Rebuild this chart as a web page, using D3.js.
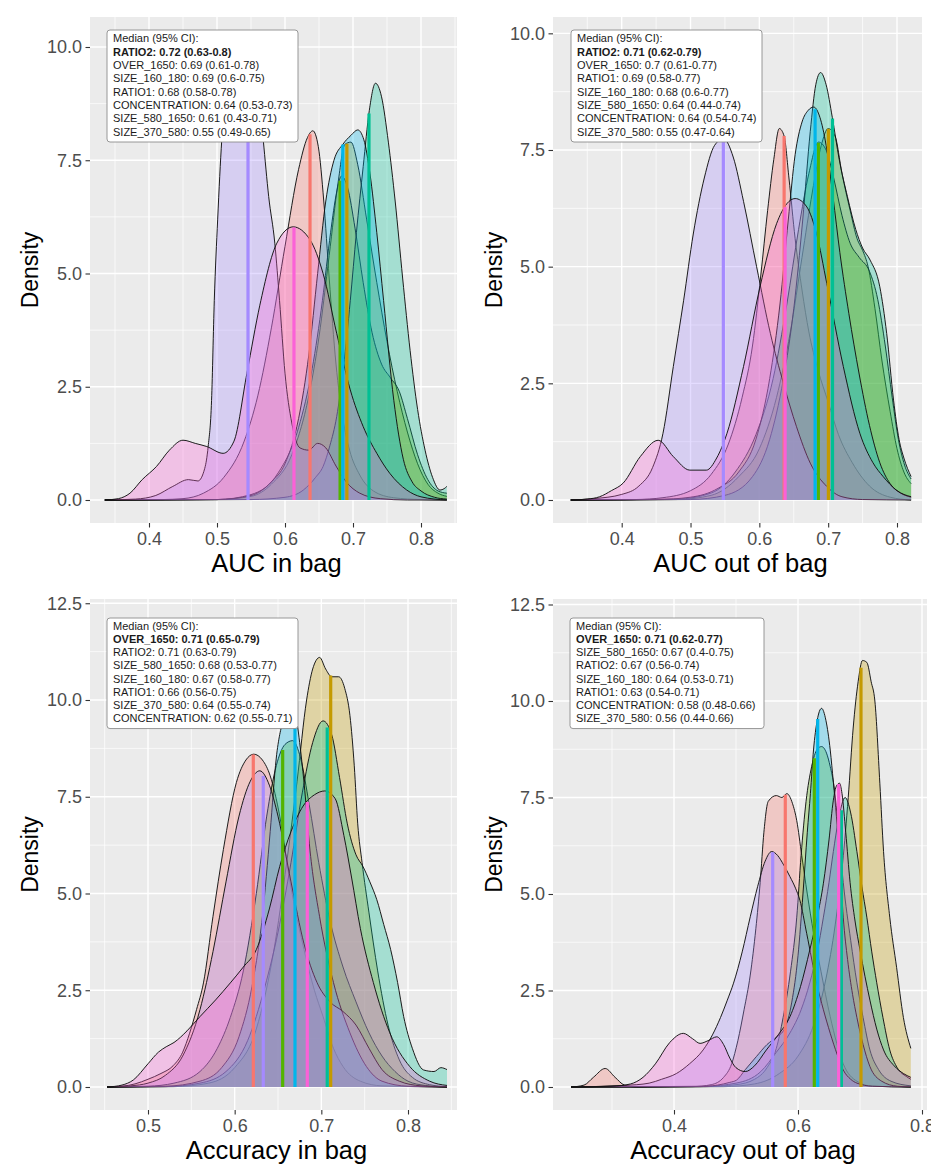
<!DOCTYPE html>
<html><head><meta charset="utf-8">
<script src="https://cdn.jsdelivr.net/npm/d3@7"></script>
<style>body{margin:0;background:#fff}svg{display:block}</style>
</head><body><svg id="c" width="931" height="1164"></svg>
<script>
const FONT = '"Liberation Sans", Arial, Helvetica, sans-serif';
const groups = ["CONCENTRATION","OVER_1650","RATIO1","RATIO2","SIZE_160_180","SIZE_370_580","SIZE_580_1650"];
const groupColors = ["#F8766D","#C49A00","#53B400","#00C094","#00B6EB","#A58AFF","#FB61D7"];

// ---------- AUC in bag ----------
const aucIn_CONCENTRATION = [[0.335,0],[0.42,0.01],[0.45,0.03],[0.48,0.15],[0.51,0.5],[0.54,1.3],[0.56,2.3],[0.58,3.8],[0.60,5.6],[0.62,7.3],[0.633,8.0],[0.641,8.15],[0.649,7.8],[0.657,6.6],[0.665,4.9],[0.675,3.0],[0.685,1.8],[0.695,1.1],[0.71,0.55],[0.73,0.2],[0.76,0.05],[0.80,0.01],[0.838,0]];
const aucIn_OVER_1650 = [[0.335,0],[0.50,0.01],[0.55,0.08],[0.58,0.35],[0.61,1.0],[0.635,2.3],[0.65,3.6],[0.665,5.4],[0.678,7.0],[0.688,7.85],[0.697,7.9],[0.707,7.4],[0.72,6.2],[0.735,4.8],[0.75,3.5],[0.765,2.4],[0.78,1.5],[0.795,0.8],[0.81,0.35],[0.825,0.15],[0.838,0.08]];
const aucIn_RATIO1 = [[0.335,0],[0.50,0.01],[0.55,0.12],[0.59,0.6],[0.62,1.6],[0.64,2.9],[0.655,4.4],[0.667,5.9],[0.676,6.8],[0.683,7.15],[0.692,6.9],[0.703,6.0],[0.715,4.8],[0.728,3.7],[0.742,3.0],[0.755,2.7],[0.768,2.4],[0.78,1.8],[0.795,1.0],[0.81,0.45],[0.825,0.2],[0.838,0.15]];
const aucIn_RATIO2 = [[0.335,0],[0.55,0.01],[0.60,0.06],[0.627,0.22],[0.645,0.5],[0.656,0.74],[0.666,1.2],[0.676,1.84],[0.686,2.94],[0.696,4.4],[0.705,5.9],[0.715,7.36],[0.724,8.6],[0.733,9.2],[0.742,8.9],[0.752,7.9],[0.762,6.6],[0.773,4.9],[0.784,3.3],[0.795,2.0],[0.806,1.1],[0.817,0.5],[0.828,0.22],[0.834,0.25],[0.838,0.3]];
const aucIn_SIZE_160_180 = [[0.335,0],[0.50,0.01],[0.55,0.1],[0.58,0.4],[0.60,0.8],[0.62,1.8],[0.635,3.2],[0.648,5.0],[0.66,6.6],[0.672,7.5],[0.685,7.85],[0.697,8.05],[0.707,8.17],[0.716,7.95],[0.725,7.2],[0.735,5.9],[0.745,4.4],[0.76,2.2],[0.774,0.9],[0.787,0.4],[0.80,0.2],[0.82,0.06],[0.838,0.02]];
const aucIn_SIZE_370_580 = [[0.335,0],[0.38,0.02],[0.41,0.1],[0.435,0.3],[0.458,0.45],[0.472,0.42],[0.482,0.7],[0.487,1.18],[0.492,2.2],[0.496,4.4],[0.501,6.2],[0.507,7.95],[0.516,9.4],[0.528,10.1],[0.541,10.2],[0.553,9.8],[0.562,8.9],[0.568,7.95],[0.576,6.7],[0.585,5.67],[0.592,4.4],[0.600,2.8],[0.61,1.7],[0.622,1.15],[0.635,1.1],[0.648,1.25],[0.66,1.15],[0.675,0.75],[0.69,0.4],[0.71,0.15],[0.74,0.03],[0.78,0],[0.838,0]];
const aucIn_SIZE_580_1650 = [[0.335,0],[0.355,0.03],[0.372,0.15],[0.39,0.45],[0.411,0.74],[0.43,1.1],[0.45,1.32],[0.468,1.25],[0.485,1.18],[0.509,1.03],[0.525,1.3],[0.544,2.8],[0.563,4.3],[0.588,5.67],[0.612,6.03],[0.637,5.74],[0.656,5.0],[0.676,3.68],[0.696,2.43],[0.715,1.62],[0.735,1.03],[0.754,0.59],[0.779,0.22],[0.80,0.07],[0.838,0]];
const aucIn_medians = [0.6368,0.691,0.681,0.7235,0.685,0.5456,0.6132];
const aucIn_legend = ["Median (95% CI):","RATIO2: 0.72 (0.63-0.8)","OVER_1650: 0.69 (0.61-0.78)","SIZE_160_180: 0.69 (0.6-0.75)","RATIO1: 0.68 (0.58-0.78)","CONCENTRATION: 0.64 (0.53-0.73)","SIZE_580_1650: 0.61 (0.43-0.71)","SIZE_370_580: 0.55 (0.49-0.65)"];
const aucIn_xTicks = [0.4,0.5,0.6,0.7,0.8];

// ---------- AUC out of bag ----------
const aucOut_CONCENTRATION = [[0.326,0],[0.42,0.01],[0.46,0.05],[0.50,0.2],[0.53,0.55],[0.555,1.2],[0.575,2.2],[0.59,3.3],[0.602,4.8],[0.612,6.2],[0.621,7.3],[0.629,7.96],[0.636,7.8],[0.643,6.9],[0.652,5.6],[0.662,4.5],[0.672,3.6],[0.685,2.8],[0.70,2.1],[0.715,1.4],[0.735,0.8],[0.76,0.3],[0.79,0.06],[0.8205,0]];
const aucOut_OVER_1650 = [[0.326,0],[0.48,0.01],[0.53,0.1],[0.57,0.5],[0.60,1.1],[0.625,2.2],[0.645,3.6],[0.662,5.2],[0.677,6.6],[0.69,7.6],[0.70,7.96],[0.71,7.8],[0.72,7.0],[0.732,6.2],[0.742,5.6],[0.75,5.35],[0.758,5.0],[0.768,4.1],[0.778,3.0],[0.79,1.9],[0.80,1.1],[0.81,0.6],[0.8205,0.35]];
const aucOut_RATIO1 = [[0.326,0],[0.48,0.02],[0.53,0.15],[0.565,0.6],[0.595,1.4],[0.62,2.6],[0.64,4.2],[0.657,5.8],[0.672,7.0],[0.686,7.67],[0.697,7.5],[0.708,6.9],[0.72,6.1],[0.732,5.5],[0.745,5.2],[0.76,4.9],[0.772,4.3],[0.783,3.3],[0.793,2.2],[0.802,1.3],[0.811,0.75],[0.8205,0.45]];
const aucOut_RATIO2 = [[0.326,0],[0.50,0.01],[0.55,0.1],[0.59,0.5],[0.615,1.3],[0.635,2.6],[0.65,4.1],[0.663,6.0],[0.674,7.9],[0.682,8.9],[0.689,9.16],[0.697,8.9],[0.706,8.2],[0.716,7.3],[0.728,6.5],[0.74,5.8],[0.75,5.4],[0.761,5.14],[0.775,4.57],[0.785,3.57],[0.795,2.14],[0.803,1.3],[0.81,0.9],[0.8205,0.5]];
const aucOut_SIZE_160_180 = [[0.326,0],[0.45,0.01],[0.50,0.06],[0.54,0.25],[0.57,0.6],[0.595,1.3],[0.615,2.6],[0.63,4.2],[0.642,6.0],[0.652,7.4],[0.662,8.1],[0.671,8.35],[0.679,8.42],[0.688,8.2],[0.697,7.6],[0.707,6.5],[0.717,5.3],[0.73,4.0],[0.745,2.7],[0.76,1.6],[0.775,0.8],[0.79,0.35],[0.805,0.15],[0.8205,0.06]];
const aucOut_SIZE_370_580 = [[0.326,0],[0.36,0.03],[0.40,0.12],[0.425,0.3],[0.445,0.7],[0.46,1.43],[0.475,2.86],[0.49,4.28],[0.504,5.7],[0.52,6.9],[0.535,7.6],[0.548,7.74],[0.562,7.35],[0.577,6.4],[0.596,5.0],[0.616,3.57],[0.635,2.5],[0.654,1.57],[0.674,0.79],[0.698,0.29],[0.72,0.07],[0.75,0.01],[0.8205,0]];
const aucOut_SIZE_580_1650 = [[0.326,0],[0.35,0.02],[0.368,0.07],[0.385,0.2],[0.402,0.36],[0.427,0.93],[0.453,1.28],[0.475,0.93],[0.499,0.64],[0.523,0.64],[0.538,0.9],[0.553,1.43],[0.577,2.86],[0.601,4.57],[0.625,5.92],[0.64,6.35],[0.652,6.46],[0.669,6.28],[0.683,5.71],[0.698,4.64],[0.722,2.86],[0.746,1.43],[0.765,0.8],[0.78,0.5],[0.80,0.2],[0.8205,0.07]];
const aucOut_medians = [0.636,0.7003,0.6857,0.7063,0.681,0.5477,0.6374];
const aucOut_legend = ["Median (95% CI):","RATIO2: 0.71 (0.62-0.79)","OVER_1650: 0.7 (0.61-0.77)","RATIO1: 0.69 (0.58-0.77)","SIZE_160_180: 0.68 (0.6-0.77)","SIZE_580_1650: 0.64 (0.44-0.74)","CONCENTRATION: 0.64 (0.54-0.74)","SIZE_370_580: 0.55 (0.47-0.64)"];
const aucOut_xTicks = [0.4,0.5,0.6,0.7,0.8];

// ---------- Accuracy in bag ----------
const accIn_CONCENTRATION = [[0.4527,0],[0.47,0.02],[0.485,0.08],[0.50,0.2],[0.515,0.35],[0.529,0.55],[0.54,0.9],[0.548,1.39],[0.556,2.0],[0.564,2.69],[0.575,4.41],[0.587,6.14],[0.602,7.87],[0.613,8.45],[0.622,8.6],[0.632,8.45],[0.641,8.04],[0.652,7.0],[0.664,5.28],[0.68,3.55],[0.692,2.5],[0.702,1.82],[0.714,1.0],[0.725,0.53],[0.745,0.15],[0.77,0.03],[0.845,0]];
const accIn_OVER_1650 = [[0.4527,0],[0.53,0.01],[0.57,0.1],[0.60,0.5],[0.625,1.5],[0.645,3.5],[0.66,5.8],[0.672,7.9],[0.683,10.0],[0.69,10.8],[0.698,11.1],[0.705,10.8],[0.712,10.6],[0.72,10.6],[0.727,10.3],[0.733,9.6],[0.738,8.3],[0.742,6.8],[0.747,5.8],[0.755,4.5],[0.765,3.0],[0.777,1.6],[0.79,0.7],[0.805,0.25],[0.825,0.06],[0.845,0.01]];
const accIn_RATIO1 = [[0.4527,0],[0.50,0.02],[0.53,0.1],[0.56,0.4],[0.58,1.0],[0.595,1.8],[0.61,3.0],[0.625,5.0],[0.637,7.0],[0.648,8.3],[0.658,8.85],[0.667,8.95],[0.676,8.5],[0.686,7.3],[0.697,5.8],[0.71,4.3],[0.725,3.1],[0.74,2.2],[0.755,1.4],[0.77,0.8],[0.785,0.4],[0.80,0.15],[0.82,0.04],[0.845,0]];
const accIn_RATIO2 = [[0.4527,0],[0.52,0.01],[0.56,0.1],[0.59,0.4],[0.615,1.2],[0.635,2.6],[0.65,4.0],[0.665,5.8],[0.678,7.6],[0.69,8.9],[0.702,9.46],[0.712,9.1],[0.721,8.0],[0.73,6.8],[0.74,6.0],[0.748,5.7],[0.756,5.3],[0.764,4.84],[0.772,4.2],[0.78,3.55],[0.788,2.7],[0.795,1.82],[0.805,1.0],[0.818,0.44],[0.83,0.4],[0.838,0.5],[0.845,0.45]];
const accIn_SIZE_160_180 = [[0.4527,0],[0.52,0.02],[0.56,0.15],[0.585,0.5],[0.605,1.3],[0.62,2.6],[0.632,4.4],[0.641,6.6],[0.648,8.5],[0.656,9.5],[0.663,10.0],[0.669,9.8],[0.675,8.9],[0.68,7.87],[0.687,6.1],[0.698,4.4],[0.714,2.7],[0.733,1.4],[0.752,0.53],[0.77,0.15],[0.80,0.02],[0.845,0]];
const accIn_SIZE_370_580 = [[0.4527,0],[0.48,0.03],[0.50,0.1],[0.52,0.3],[0.54,0.8],[0.56,2.0],[0.575,3.5],[0.59,5.3],[0.605,7.0],[0.618,7.9],[0.629,8.17],[0.64,7.8],[0.65,7.0],[0.665,5.3],[0.68,3.7],[0.695,2.7],[0.71,2.2],[0.725,1.95],[0.74,1.6],[0.755,1.0],[0.77,0.45],[0.79,0.15],[0.815,0.03],[0.845,0]];
const accIn_SIZE_580_1650 = [[0.4527,0],[0.47,0.05],[0.483,0.18],[0.50,0.6],[0.512,0.9],[0.521,1.04],[0.53,1.15],[0.545,1.45],[0.56,1.82],[0.578,2.25],[0.595,2.69],[0.61,3.1],[0.625,3.55],[0.64,4.6],[0.652,5.7],[0.665,6.6],[0.679,7.26],[0.692,7.55],[0.704,7.65],[0.716,7.45],[0.726,6.5],[0.735,5.4],[0.745,4.1],[0.76,2.7],[0.779,1.4],[0.802,0.53],[0.825,0.15],[0.845,0.04]];
const accIn_medians = [0.6215,0.7108,0.6554,0.7068,0.6696,0.633,0.6838];
const accIn_legend = ["Median (95% CI):","OVER_1650: 0.71 (0.65-0.79)","RATIO2: 0.71 (0.63-0.79)","SIZE_580_1650: 0.68 (0.53-0.77)","SIZE_160_180: 0.67 (0.58-0.77)","RATIO1: 0.66 (0.56-0.75)","SIZE_370_580: 0.64 (0.55-0.74)","CONCENTRATION: 0.62 (0.55-0.71)"];
const accIn_xTicks = [0.5,0.6,0.7,0.8];

// ---------- Accuracy out of bag ----------
const accOut_CONCENTRATION = [[0.234,0],[0.255,0.05],[0.27,0.25],[0.289,0.48],[0.305,0.25],[0.32,0.05],[0.34,0],[0.43,0.01],[0.46,0.06],[0.48,0.25],[0.493,0.6],[0.503,1.2],[0.513,2.0],[0.523,2.9],[0.532,4.1],[0.539,5.3],[0.545,6.6],[0.552,7.4],[0.565,7.55],[0.574,7.5],[0.582,7.6],[0.591,7.35],[0.598,6.9],[0.606,6.0],[0.615,5.0],[0.625,4.0],[0.637,3.0],[0.652,1.82],[0.673,0.6],[0.695,0.15],[0.72,0.02],[0.782,0]];
const accOut_OVER_1650 = [[0.234,0],[0.48,0.01],[0.53,0.08],[0.57,0.35],[0.60,0.8],[0.625,1.6],[0.645,2.8],[0.66,4.2],[0.672,5.8],[0.681,7.5],[0.689,9.3],[0.697,10.5],[0.704,11.05],[0.711,11.0],[0.718,10.5],[0.724,10.0],[0.732,7.87],[0.738,6.1],[0.748,4.4],[0.759,3.1],[0.77,1.8],[0.782,1.0]];
const accOut_RATIO1 = [[0.234,0],[0.45,0.01],[0.50,0.06],[0.53,0.2],[0.55,0.5],[0.565,1.0],[0.576,1.8],[0.588,3.0],[0.598,4.4],[0.605,6.0],[0.613,7.4],[0.622,8.3],[0.631,8.75],[0.638,8.82],[0.646,8.65],[0.652,8.3],[0.658,7.8],[0.665,6.7],[0.673,5.3],[0.685,3.8],[0.695,2.7],[0.705,1.8],[0.716,0.96],[0.73,0.45],[0.75,0.15],[0.782,0.03]];
const accOut_RATIO2 = [[0.234,0],[0.45,0.02],[0.50,0.1],[0.54,0.4],[0.565,0.9],[0.587,1.4],[0.605,2.0],[0.619,2.7],[0.631,3.5],[0.641,4.4],[0.65,5.3],[0.657,6.1],[0.665,6.9],[0.676,7.5],[0.685,7.1],[0.695,6.1],[0.703,5.2],[0.711,4.4],[0.719,3.5],[0.727,2.7],[0.737,1.8],[0.748,0.96],[0.76,0.5],[0.775,0.27],[0.782,0.2]];
const accOut_SIZE_160_180 = [[0.234,0],[0.44,0.01],[0.47,0.05],[0.49,0.12],[0.501,0.18],[0.515,0.45],[0.533,0.79],[0.55,1.1],[0.566,1.3],[0.578,1.5],[0.59,2.2],[0.60,3.4],[0.608,5.0],[0.615,6.6],[0.62,7.6],[0.625,8.73],[0.631,9.5],[0.638,9.81],[0.645,9.5],[0.652,8.73],[0.657,7.9],[0.662,7.0],[0.668,5.7],[0.673,4.4],[0.68,3.3],[0.688,2.4],[0.695,1.8],[0.705,1.1],[0.716,0.53],[0.735,0.15],[0.76,0.02],[0.782,0]];
const accOut_SIZE_370_580 = [[0.234,0],[0.27,0.01],[0.30,0.03],[0.34,0.06],[0.36,0.1],[0.38,0.2],[0.404,0.35],[0.425,0.6],[0.447,0.96],[0.462,1.35],[0.475,1.8],[0.486,2.25],[0.496,2.69],[0.51,3.5],[0.523,4.41],[0.535,5.2],[0.547,5.85],[0.5575,6.1],[0.567,6.0],[0.577,5.75],[0.587,5.45],[0.596,5.15],[0.603,4.84],[0.614,3.98],[0.63,2.69],[0.641,2.0],[0.652,1.39],[0.663,0.85],[0.673,0.44],[0.685,0.2],[0.695,0.1],[0.72,0.02],[0.782,0]];
const accOut_SIZE_580_1650 = [[0.234,0],[0.30,0.02],[0.33,0.08],[0.35,0.25],[0.37,0.6],[0.393,1.15],[0.415,1.39],[0.43,1.25],[0.442,1.13],[0.455,1.2],[0.469,1.3],[0.48,1.1],[0.49,0.75],[0.50,0.5],[0.515,0.4],[0.53,0.55],[0.549,0.96],[0.568,1.35],[0.587,1.82],[0.604,2.6],[0.619,3.55],[0.631,4.4],[0.641,5.28],[0.65,6.4],[0.657,7.43],[0.662,7.8],[0.667,7.87],[0.671,7.6],[0.677,6.6],[0.684,5.3],[0.692,4.3],[0.70,3.55],[0.716,2.25],[0.727,1.5],[0.738,0.96],[0.755,0.55],[0.77,0.35],[0.782,0.25]];
const accOut_medians = [0.5795,0.7016,0.6263,0.67,0.6318,0.5592,0.6656];
const accOut_legend = ["Median (95% CI):","OVER_1650: 0.71 (0.62-0.77)","SIZE_580_1650: 0.67 (0.4-0.75)","RATIO2: 0.67 (0.56-0.74)","SIZE_160_180: 0.64 (0.53-0.71)","RATIO1: 0.63 (0.54-0.71)","CONCENTRATION: 0.58 (0.48-0.66)","SIZE_370_580: 0.56 (0.44-0.66)"];
const accOut_xTicks = [0.4,0.6,0.8];

const yTicksTop = [0,2.5,5,7.5,10];
const yTicksBottom = [0,2.5,5,7.5,10,12.5];
const titles = ["AUC in bag","AUC out of bag","Accuracy in bag","Accuracy out of bag"];
const yTitle = "Density";

// ---------- layout (pixels) ----------
const panels = [
  {title:titles[0], box:{l:90,r:457,t:17,b:523}, xMap:[[0.4,149],[0.8,421]], yMap:[[0,500],[10,47]],
   curves:[aucIn_CONCENTRATION,aucIn_OVER_1650,aucIn_RATIO1,aucIn_RATIO2,aucIn_SIZE_160_180,aucIn_SIZE_370_580,aucIn_SIZE_580_1650],
   medians:aucIn_medians, legend:aucIn_legend, xTicks:aucIn_xTicks, yTicks:yTicksTop, leg:{x:107,w:191,top:30,b0:42.4,step:13.3}, yTitleX:38},
  {title:titles[1], box:{l:553,r:922,t:17,b:523}, xMap:[[0.4,621.7],[0.8,897]], yMap:[[0,500],[7.5,150]],
   curves:[aucOut_CONCENTRATION,aucOut_OVER_1650,aucOut_RATIO1,aucOut_RATIO2,aucOut_SIZE_160_180,aucOut_SIZE_370_580,aucOut_SIZE_580_1650],
   medians:aucOut_medians, legend:aucOut_legend, xTicks:aucOut_xTicks, yTicks:yTicksTop, leg:{x:571,w:191,top:30,b0:42.4,step:13.3}, yTitleX:502},
  {title:titles[2], box:{l:90,r:457,t:599,b:1110}, xMap:[[0.5,148],[0.8,408]], yMap:[[0,1087],[10,700]],
   curves:[accIn_CONCENTRATION,accIn_OVER_1650,accIn_RATIO1,accIn_RATIO2,accIn_SIZE_160_180,accIn_SIZE_370_580,accIn_SIZE_580_1650],
   medians:accIn_medians, legend:accIn_legend, xTicks:accIn_xTicks, yTicks:yTicksBottom, leg:{x:107,w:191,top:618,b0:630,step:13.15}, yTitleX:38},
  {title:titles[3], box:{l:553,r:927,t:599,b:1110}, xMap:[[0.4,674],[0.8,922]], yMap:[[0,1087],[10,701]],
   curves:[accOut_CONCENTRATION,accOut_OVER_1650,accOut_RATIO1,accOut_RATIO2,accOut_SIZE_160_180,accOut_SIZE_370_580,accOut_SIZE_580_1650],
   medians:accOut_medians, legend:accOut_legend, xTicks:accOut_xTicks, yTicks:yTicksBottom, leg:{x:570,w:194,top:618,b0:630,step:13.15}, yTitleX:502}
];

const svg = d3.select("#c");
const fmt = d3.format(".1f");

function minorTicks(major, lo, hi){
  const step = major[1]-major[0], out=[];
  for(let v = major[0]-step/2; v <= major[major.length-1]+step/2+1e-9; v += step) if (v>lo && v<hi) out.push(v);
  return out;
}
function interp(curve, v){
  const i = d3.bisector(d=>d[0]).left(curve, v);
  if (i<=0) return curve[0][1];
  if (i>=curve.length) return curve[curve.length-1][1];
  const a=curve[i-1], b=curve[i], t=(v-a[0])/(b[0]-a[0]);
  return a[1]+t*(b[1]-a[1]);
}

panels.forEach((p,pi)=>{
  const B = p.box;
  const x = d3.scaleLinear().domain([p.xMap[0][0],p.xMap[1][0]]).range([p.xMap[0][1],p.xMap[1][1]]);
  const y = d3.scaleLinear().domain([p.yMap[0][0],p.yMap[1][0]]).range([p.yMap[0][1],p.yMap[1][1]]);
  const xlo = x.invert(B.l), xhi = x.invert(B.r), ylo = y.invert(B.b), yhi = y.invert(B.t);
  const g = svg.append("g");
  g.append("rect").attr("x",B.l).attr("y",B.t).attr("width",B.r-B.l).attr("height",B.b-B.t).attr("fill","#EBEBEB");
  const yStep = p.yTicks[1]-p.yTicks[0];
  const yMinor = minorTicks(p.yTicks.concat([p.yTicks[p.yTicks.length-1]+yStep]), ylo, yhi);
  const xMinor = minorTicks(p.xTicks, xlo, xhi);
  g.selectAll(".ymin").data(yMinor).join("line").attr("x1",B.l).attr("x2",B.r).attr("y1",d=>y(d)).attr("y2",d=>y(d)).attr("stroke","#fff").attr("stroke-width",0.7);
  g.selectAll(".xmin").data(xMinor).join("line").attr("y1",B.t).attr("y2",B.b).attr("x1",d=>x(d)).attr("x2",d=>x(d)).attr("stroke","#fff").attr("stroke-width",0.7);
  g.selectAll(".ymaj").data(p.yTicks.filter(v=>v>=ylo&&v<=yhi)).join("line").attr("x1",B.l).attr("x2",B.r).attr("y1",d=>y(d)).attr("y2",d=>y(d)).attr("stroke","#fff").attr("stroke-width",1.4);
  g.selectAll(".xmaj").data(p.xTicks.filter(v=>v>=xlo&&v<=xhi)).join("line").attr("y1",B.t).attr("y2",B.b).attr("x1",d=>x(d)).attr("x2",d=>x(d)).attr("stroke","#fff").attr("stroke-width",1.4);

  const clipId = "clip"+pi;
  svg.append("clipPath").attr("id",clipId).append("rect").attr("x",B.l).attr("y",B.t).attr("width",B.r-B.l).attr("height",B.b-B.t);
  const dg = g.append("g").attr("clip-path",`url(#${clipId})`);
  const area = d3.area().x(d=>x(d[0])).y0(y(0)).y1(d=>y(d[1])).curve(d3.curveMonotoneX);
  const line = d3.line().x(d=>x(d[0])).y(d=>y(d[1])).curve(d3.curveMonotoneX);
  p.curves.forEach((c,ci)=>{
    dg.append("path").attr("d",area(c)).attr("fill",groupColors[ci]).attr("fill-opacity",0.3);
    dg.append("path").attr("d",line(c)).attr("fill","none").attr("stroke","#111").attr("stroke-width",0.95);
  });
  p.medians.forEach((m,ci)=>{
    dg.append("line").attr("x1",x(m)).attr("x2",x(m)).attr("y1",y(0)).attr("y2",y(interp(p.curves[ci],m)))
      .attr("stroke",groupColors[ci]).attr("stroke-width",3.2);
  });

  // legend label
  const L = p.leg, n = p.legend.length;
  const lg = g.append("g");
  lg.append("rect").attr("x",L.x).attr("y",L.top).attr("width",L.w).attr("height",(L.b0+(n-1)*L.step+6.5)-L.top)
    .attr("rx",3).attr("fill","#fff").attr("stroke","#8c8c8c").attr("stroke-width",0.9);
  lg.selectAll("text").data(p.legend).join("text")
    .attr("x",L.x+6).attr("y",(d,i)=>L.b0+i*L.step)
    .attr("font-family",FONT).attr("font-size",11).attr("fill","#1a1a1a")
    .attr("font-weight",(d,i)=>i===1?"bold":"normal").text(d=>d);

  // axes
  const gy = svg.append("g").attr("transform",`translate(${B.l},0)`)
    .call(d3.axisLeft(y).tickValues(p.yTicks).tickFormat(fmt).tickSize(4.5).tickPadding(3.5));
  const gx = svg.append("g").attr("transform",`translate(0,${B.b})`)
    .call(d3.axisBottom(x).tickValues(p.xTicks).tickFormat(fmt).tickSize(4.5).tickPadding(5));
  [gy,gx].forEach(a=>{
    a.select(".domain").remove();
    a.selectAll(".tick line").attr("stroke","#333").attr("stroke-width",1.1);
    a.selectAll(".tick text").attr("fill","#4D4D4D").attr("font-size",18).attr("font-family",FONT);
  });

  svg.append("text").attr("x",(B.l+B.r)/2+3).attr("y",B.b+49).attr("text-anchor","middle")
    .attr("font-family",FONT).attr("font-size",25.5).attr("fill","#000").text(p.title);
  svg.append("text").attr("transform",`translate(${p.yTitleX},${(B.t+B.b)/2}) rotate(-90)`).attr("text-anchor","middle")
    .attr("font-family",FONT).attr("font-size",23).attr("fill","#000").text(yTitle);
});
</script></body></html>
